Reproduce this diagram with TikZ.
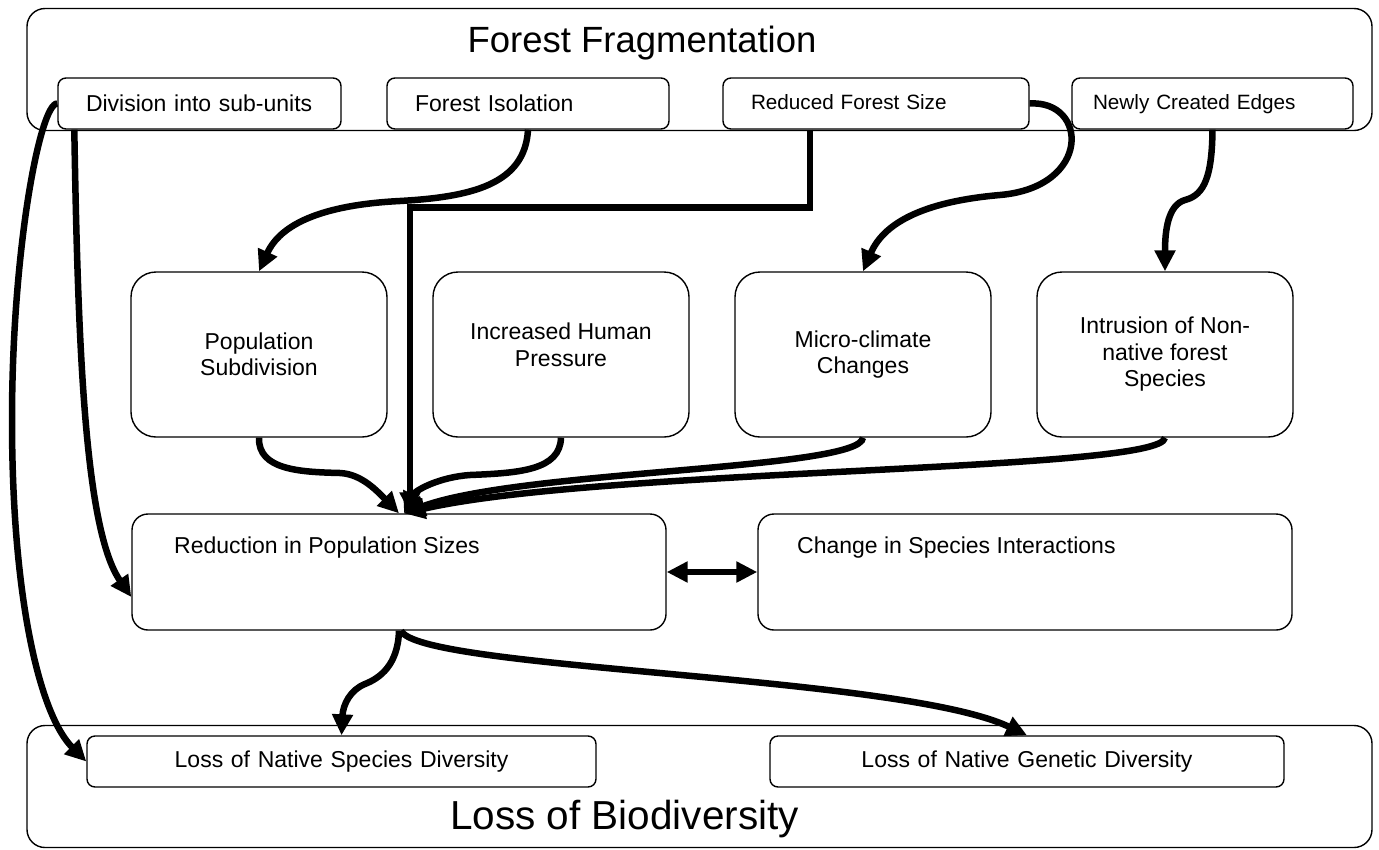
\documentclass[tikz,border=0pt]{standalone}
\usepackage{fontspec}
\setmainfont{Liberation Sans}
\usetikzlibrary{arrows.meta}

\begin{document}
\begin{tikzpicture}[
  x=1pt, y=-1pt,
  outer/.style={rectangle, draw, rounded corners=18pt, line width=1.4pt,
                minimum width=1345pt, minimum height=122pt},
  tab/.style={rectangle, draw, rounded corners=8pt, line width=1.4pt,
              minimum height=51pt, inner xsep=28pt, inner ysep=0pt, align=left,
              font=\fontsize{23}{26.5}\selectfont},
  smalltab/.style={tab, text height=15pt, text depth=4pt,
                   font=\fontsize{20.7}{24}\selectfont},
  box/.style={rectangle, draw, rounded corners=25pt, line width=1.4pt,
              minimum width=256pt, minimum height=165pt, align=center,
              font=\fontsize{23}{26.5}\selectfont},
  wide/.style={rectangle, draw, rounded corners=16pt, line width=1.4pt,
               minimum width=534pt, minimum height=116pt},
  lbl/.style={anchor=base west, inner sep=0pt, font=\fontsize{23}{26.5}\selectfont},
  title/.style={anchor=base, inner sep=0pt},
  arrow/.style={->, line width=6.5pt, >={Triangle[length=21pt, width=20pt]}}
]
\useasboundingbox (0,0) rectangle (1379,849);

% Frames
\node[outer] at (699.5,69.5)  (frag)   {};
\node[outer] at (699.5,786.5) (biodiv) {};
\node[title, font=\fontsize{36.5}{40}\selectfont] at (642,52)  (fragtitle) {Forest Fragmentation};
\node[title, font=\fontsize{40.5}{44}\selectfont] at (624.5,829) (biotitle) {Loss of Biodiversity};

% Row 1 — causes (y=103.5)
\node[tab, text width=227pt] at (199.5,103.5) (division)  {Division into sub-units};
\node[tab, text width=226pt] at (528,103.5)   (isolation) {Forest Isolation};
\node[smalltab, text width=250pt] at (876,103.5) (redsize) {Reduced Forest Size};
\node[smalltab, text width=239pt, inner xsep=21pt] at (1212.5,103.5) (newedges) {Newly Created Edges};

% Row 2 — effects (y=354.5)
\node[box] at (259,354.5)  (popsub)     {Population\\Subdivision};
\node[box, text depth=20pt] at (561,354.5) (humanpress) {Increased Human\\Pressure};
\node[box] at (863,354.5)  (microclim)  {Micro-climate\\Changes};
\node[box] at (1165,354.5) (intrusion)  {Intrusion of Non-\\native forest\\Species};

% Row 3 — population level (y=572)
\node[wide] at (399,572)  (redpop)  {};
\node[wide] at (1025,572) (specint) {};
\node[lbl] at (174,553) (redpoplbl)  {Reduction in Population Sizes};
\node[lbl] at (797,553) (specintlbl) {Change in Species Interactions};

% Row 4 — outcomes (y=761.5)
\node[tab, align=center, text width=453pt] at (341.5,761.5) (lossspec) {Loss of Native Species Diversity};
\node[tab, align=center, text width=458pt] at (1027,761.5)  (lossgen)  {Loss of Native Genetic Diversity};

% Arrows from row 1
\draw[arrow] (division.west) .. controls (40,103) and (12,250) .. (12,420)
             .. controls (12,600) and (40,715) .. (lossspec.west);
\draw[arrow] ([xshift=17pt]division.south west) .. controls (78,350) and (85,530)
             .. ([yshift=-25pt]redpop.west);
\draw[arrow] (isolation.south) .. controls (525,185) and (470,197) .. (400,201)
             .. controls (320,205) and (280,225) .. (popsub.north);
\draw[arrow] ([xshift=-66pt]redsize.south) -- ++(0,78) -| ([xshift=11pt]redpop.north);
\draw[arrow] (redsize.east) .. controls (1088,100) and (1092,187) .. (1000,195)
             .. controls (930,201) and (885,220) .. (microclim.north);
\draw[arrow] (newedges.south) .. controls (1212,175) and (1205,195) .. (1185,200)
             .. controls (1168,205) and (1165,230) .. (intrusion.north);

% Arrows from row 2
\draw[arrow] (popsub.south) .. controls (258,470) and (300,472) .. (340,473)
             .. controls (362,474) and (378,492) .. (redpop.north);
\draw[arrow] (humanpress.south) .. controls (560,470) and (520,473) .. (470,475)
             .. controls (440,477) and (415,490) .. ([xshift=5pt]redpop.north);
\draw[arrow] (microclim.south) .. controls (860,470) and (520,470) .. ([xshift=5pt]redpop.north);
\draw[arrow] (intrusion.south) .. controls (1162,472) and (600,468) .. ([xshift=5pt]redpop.north);

% Row 3 links
\draw[arrow, <->] (redpop.east) -- (specint.west);
\draw[arrow] (redpop.south) .. controls (398,665) and (380,678) .. (365,684)
             .. controls (350,690) and (343,705) .. (lossspec.north);
\draw[arrow] ([xshift=2pt]redpop.south) .. controls (420,670) and (900,675) .. (lossgen.north);
\end{tikzpicture}
\end{document}
